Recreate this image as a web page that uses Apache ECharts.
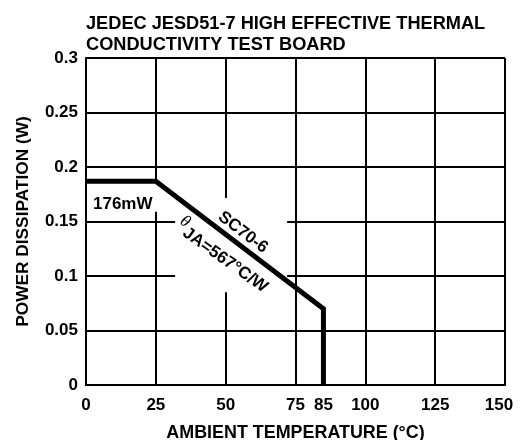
<!DOCTYPE html>
<html>
<head>
<meta charset="utf-8">
<script src="https://cdn.jsdelivr.net/npm/echarts@6/dist/echarts.min.js"></script>
<style>html,body{margin:0;padding:0;background:#fff}#c{width:520px;height:440px}</style>
</head>
<body>
<div id="c"></div>
<script>
const titleLines = ['JEDEC JESD51-7 HIGH EFFECTIVE THERMAL', 'CONDUCTIVITY TEST BOARD'];
const xName = 'AMBIENT TEMPERATURE (°C)';
const yName = 'POWER DISSIPATION (W)';
const xTickLabels = [0, 25, 50, 75, 85, 100, 125, 150];
const tempC = [0, 25, 85, 85];
const powerW = [0.187, 0.187, 0.07, 0];
const annFlat = {text: '176mW', at: [2.5, 0.166]};
const annPkg = {text: 'SC70-6', at: [56.2, 0.140]};
const annTheta = {at: [49.3, 0.120]};
// white masks behind annotation text (data-space corners)
const masks = [
  [[1, 0.186], [25.6, 0.159]],
  [[45.5, 0.1716], [67, 0.1165]],
  [[31.9, 0.156], [72, 0.085]]
];

const FONT = 'Liberation Sans, Arial, sans-serif';
const chart = echarts.init(document.getElementById('c'), null, {renderer: 'canvas'});
const axisText = {color: '#000', fontFamily: FONT, fontWeight: 'bold', fontSize: 17};

chart.setOption({
  animation: false,
  backgroundColor: '#fff',
  title: {
    text: titleLines.join('\n'),
    left: 81, top: 8,
    textStyle: {color: '#000', fontFamily: FONT, fontWeight: 'bold', fontSize: 18.2, lineHeight: 21}
  },
  grid: {left: 86, right: 15, top: 58, bottom: 55, containLabel: false, outerBoundsMode: 'none'},
  xAxis: {
    type: 'value', min: 0, max: 150, interval: 25,
    name: xName, nameLocation: 'middle', nameGap: 39,
    nameTextStyle: Object.assign({}, axisText, {fontSize: 17.9}),
    axisLine: {show: true, lineStyle: {color: '#000', width: 2}},
    axisTick: {show: false},
    axisLabel: Object.assign({margin: 12, customValues: xTickLabels,
      formatter: v => v === 150 ? '{e|150}' : String(v),
      rich: {e: {fontFamily: FONT, fontWeight: 'bold', fontSize: 17, color: '#000', padding: [0, 12, 0, 0]}}}, axisText),
    splitLine: {show: true, lineStyle: {color: '#000', width: 2}}
  },
  yAxis: {
    type: 'value', min: 0, max: 0.3, interval: 0.05,
    name: yName, nameLocation: 'middle', nameGap: 54,
    nameTextStyle: Object.assign({}, axisText, {fontSize: 17.3}),
    axisLine: {show: true, lineStyle: {color: '#000', width: 2}},
    axisTick: {show: false},
    axisLabel: Object.assign({margin: 8}, axisText),
    splitLine: {show: true, lineStyle: {color: '#000', width: 2}}
  },
  series: [{
    type: 'line',
    data: tempC.map((t, i) => [t, powerW[i]]),
    showSymbol: false, symbol: 'none',
    lineStyle: {color: '#000', width: 5, cap: 'butt', join: 'miter'},
    z: 5
  }]
});

const px = v => chart.convertToPixel({gridIndex: 0}, v);
const p0 = px([tempC[1], powerW[1]]);
const p1 = px([tempC[2], powerW[2]]);
const ang = -Math.atan2(p1[1] - p0[1], p1[0] - p0[0]);
const a1 = px(annFlat.at), a2 = px(annPkg.at), a3 = px(annTheta.at);

const maskEls = masks.map(m => {
  const c0 = px(m[0]), c1 = px(m[1]);
  return {type: 'rect', z: 1, silent: true,
    shape: {x: Math.min(c0[0], c1[0]), y: Math.min(c0[1], c1[1]), width: Math.abs(c1[0] - c0[0]), height: Math.abs(c1[1] - c0[1])},
    style: {fill: '#fff'}};
});

chart.setOption({
  graphic: maskEls.concat([
    {type: 'text', x: a1[0], y: a1[1], z: 10,
     style: {text: annFlat.text, fill: '#000', font: 'bold 17px ' + FONT, align: 'left', verticalAlign: 'middle'}},
    {type: 'text', x: a2[0], y: a2[1], rotation: ang, z: 10,
     style: {text: annPkg.text, fill: '#000', font: 'bold 17px ' + FONT, align: 'center', verticalAlign: 'middle'}},
    {type: 'text', x: a3[0], y: a3[1], rotation: ang * 0.95, z: 10,
     style: {text: '{t|θ}{s|JA=567°C/W}', align: 'center', verticalAlign: 'middle',
             rich: {
               t: {fill: '#000', fontFamily: 'Liberation Serif, serif', fontStyle: 'italic', fontSize: 17, fontWeight: 'normal', padding: [0, 1, 8, 0], verticalAlign: 'bottom'},
               s: {fill: '#000', fontFamily: FONT, fontWeight: 'bold', fontSize: 17, verticalAlign: 'bottom'}
             }}}
  ])
});
</script>
</body>
</html>
